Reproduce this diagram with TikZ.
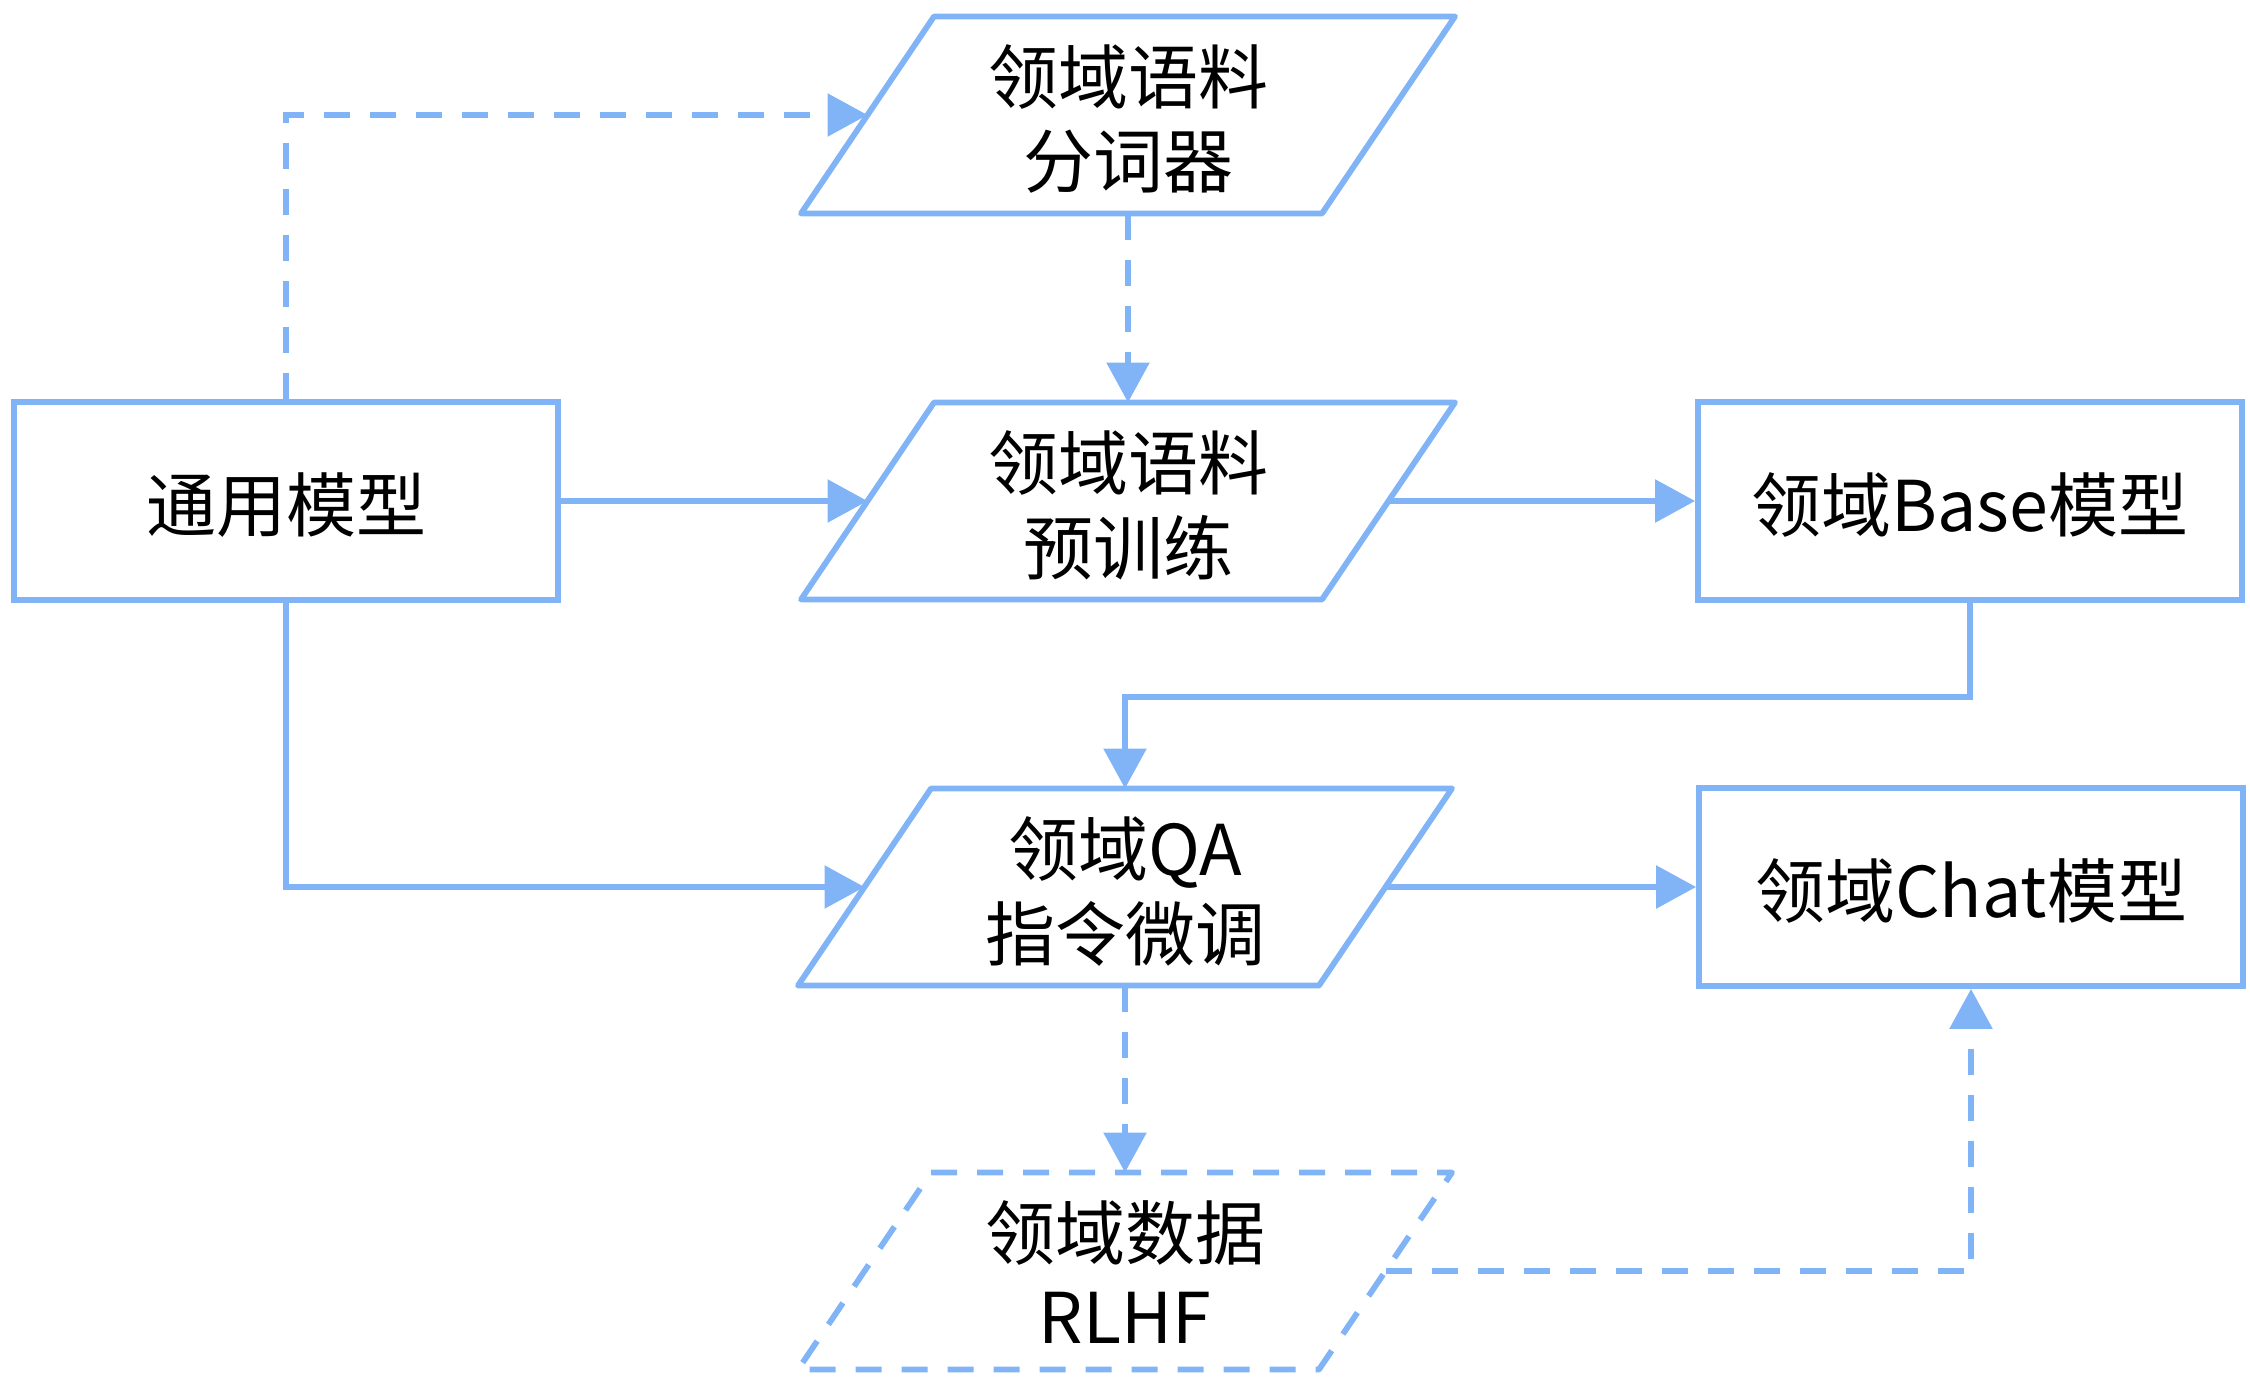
\documentclass[tikz,border=0pt]{standalone}
\usepackage{fontspec}
\setmainfont{Noto Sans CJK SC}
\usetikzlibrary{arrows.meta}
\definecolor{lb}{RGB}{128,180,246}
\newcommand\drawpgram[2][]{\draw[pline,#1] ([xshift=33.25pt]#2.north west) -- ([xshift=33.25pt]#2.north east) -- ([xshift=-33.25pt]#2.south east) -- ([xshift=-33.25pt]#2.south west) -- cycle;}
\newcommand\tx[1]{\begin{tabular}{@{}c@{}}\rule{0pt}{43.5pt}#1\end{tabular}}
\begin{document}
\begin{tikzpicture}[x=0.5pt,y=-0.5pt,
  pline/.style={draw=lb, line width=2.9pt, line join=round},
  box/.style={draw=lb, line width=2.9pt, minimum width=272pt, minimum height=99pt, inner sep=0pt,
    font=\fontsize{35}{42}\selectfont},
  para/.style={box, draw=none, outer sep=0pt, minimum width=260.5pt, minimum height=98.5pt},
  arr/.style={draw=lb, line width=2.9pt, -{Triangle[length=20pt,width=21pt]}},
  dsh/.style={dash pattern=on 13pt off 10pt}]
\useasboundingbox (0,0) rectangle (2250,1386);
\node[box] (gm) at (286,501) {\tx{通用模型}};
\node[para] (p1) at (1128,115) {\tx{领域语料\\分词器}};
\node[para] (p2) at (1128,501) {\tx{领域语料\\预训练}};
\node[box] (base) at (1970,501) {\tx{领域Base模型}};
\node[para] (p3) at (1125,887) {\tx{领域QA\\指令微调}};
\node[box] (chat) at (1971,887) {\tx{领域Chat模型}};
\node[para] (p4) at (1125,1271) {\tx{领域数据\\RLHF}};
\drawpgram{p1}
\drawpgram{p2}
\drawpgram{p3}
\drawpgram[dsh]{p4}
\draw[arr, dsh] (gm.north) |- (p1.west);
\draw[arr, dsh] (p1.south) -- (p2.north);
\draw[arr] (gm.east) -- (p2.west);
\draw[arr] (p2.east) -- (base.west);
\draw[arr] (base.south) -- ++(0,94) -| (p3.north);
\draw[arr] (gm.south) |- (p3.west);
\draw[arr] (p3.east) -- (chat.west);
\draw[arr, dsh] (p3.south) -- (p4.north);
\draw[arr, dsh] (p4.east) -| (chat.south);
\end{tikzpicture}
\end{document}
